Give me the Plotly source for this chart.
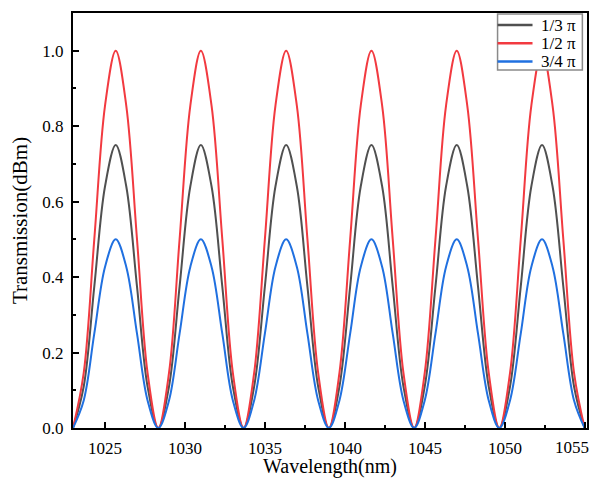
import plotly.graph_objects as go

# Wavelength sample positions (nm), 8 samples per fringe period
wavelength = [
    1023.00, 1023.67, 1024.33, 1025.00, 1025.67, 1026.33, 1027.00, 1027.66,
    1028.33, 1029.00, 1029.66, 1030.33, 1030.99, 1031.66, 1032.33, 1032.99,
    1033.66, 1034.32, 1034.99, 1035.65, 1036.32, 1036.99, 1037.65, 1038.32,
    1038.99, 1039.65, 1040.32, 1040.98, 1041.65, 1042.32, 1042.98, 1043.65,
    1044.32, 1044.98, 1045.65, 1046.31, 1046.98, 1047.64, 1048.31, 1048.98,
    1049.64, 1050.31, 1050.98, 1051.64, 1052.31, 1052.97, 1053.64, 1054.31,
    1054.97,
]

# Transmission values
t_third = [
    0.0, 0.11, 0.375, 0.64, 0.75, 0.64, 0.375, 0.11,
    0.0, 0.11, 0.375, 0.64, 0.75, 0.64, 0.375, 0.11,
    0.0, 0.11, 0.375, 0.64, 0.75, 0.64, 0.375, 0.11,
    0.0, 0.11, 0.375, 0.64, 0.75, 0.64, 0.375, 0.11,
    0.0, 0.11, 0.375, 0.64, 0.75, 0.64, 0.375, 0.11,
    0.0, 0.11, 0.375, 0.64, 0.75, 0.64, 0.375, 0.11,
    0.0,
]
t_half = [
    0.0, 0.146, 0.5, 0.854, 1.0, 0.854, 0.5, 0.146,
    0.0, 0.146, 0.5, 0.854, 1.0, 0.854, 0.5, 0.146,
    0.0, 0.146, 0.5, 0.854, 1.0, 0.854, 0.5, 0.146,
    0.0, 0.146, 0.5, 0.854, 1.0, 0.854, 0.5, 0.146,
    0.0, 0.146, 0.5, 0.854, 1.0, 0.854, 0.5, 0.146,
    0.0, 0.146, 0.5, 0.854, 1.0, 0.854, 0.5, 0.146,
    0.0,
]
t_three_quarter = [
    0.0, 0.073, 0.25, 0.427, 0.5, 0.427, 0.25, 0.073,
    0.0, 0.073, 0.25, 0.427, 0.5, 0.427, 0.25, 0.073,
    0.0, 0.073, 0.25, 0.427, 0.5, 0.427, 0.25, 0.073,
    0.0, 0.073, 0.25, 0.427, 0.5, 0.427, 0.25, 0.073,
    0.0, 0.073, 0.25, 0.427, 0.5, 0.427, 0.25, 0.073,
    0.0, 0.073, 0.25, 0.427, 0.5, 0.427, 0.25, 0.073,
    0.0,
]

series_names = ["1/3 π", "1/2 π", "3/4 π"]
series_values = [t_third, t_half, t_three_quarter]
series_colors = ["#505050", "#f23a40", "#2070e0"]

x_ticks = [1025, 1030, 1035, 1040, 1045, 1050, 1055]
x_tick_labels = ["1025", "1030", "1035", "1040", "1045", "1050", ""]
last_x_label = "1055"   # drawn separately so it stays inside the page
x_title = "Wavelength(nm)"
y_title = "Transmission(dBm)"
y_ticks = [0.0, 0.2, 0.4, 0.6, 0.8, 1.0]
y_tick_labels = ["0.0", "0.2", "0.4", "0.6", "0.8", "1.0"]

font_family = "Liberation Serif, Times New Roman, serif"

fig = go.Figure()
for name, vals, col in zip(series_names, series_values, series_colors):
    fig.add_trace(go.Scatter(
        x=wavelength, y=vals, name=name, mode="lines", showlegend=False,
        line=dict(color=col, width=2, shape="spline", smoothing=1.0),
    ))

# Hand-drawn legend box (paper coordinates) so its size matches the original
leg_x0, leg_x1, leg_y0, leg_y1 = 0.826, 0.991, 0.8626, 0.9976
leg_line_x0, leg_line_x1, leg_text_x = 0.826, 0.894, 0.906
leg_rows = [0.971, 0.927, 0.883]

shapes = [dict(type="rect", xref="paper", yref="paper",
               x0=leg_x0, x1=leg_x1, y0=leg_y0, y1=leg_y1,
               fillcolor="white", line=dict(color="#8a8a8a", width=1.5), layer="above")]
annotations = []
for name, col, ry in zip(series_names, series_colors, leg_rows):
    shapes.append(dict(type="line", xref="paper", yref="paper",
                       x0=leg_line_x0, x1=leg_line_x1, y0=ry, y1=ry,
                       line=dict(color=col, width=2.5), layer="above"))
    annotations.append(dict(xref="paper", yref="paper", x=leg_text_x, y=ry,
                            xanchor="left", yanchor="middle", showarrow=False,
                            text=name, font=dict(family=font_family, size=17, color="black")))

annotations.append(dict(xref="paper", yref="paper", x=1.0087, y=0,
                        xanchor="right", yanchor="middle", yshift=-19.5, showarrow=False,
                        text=last_x_label, font=dict(family=font_family, size=17, color="black")))
annotations.append(dict(xref="paper", yref="paper", x=0.5, y=0,
                        xanchor="center", yanchor="middle", yshift=-38, showarrow=False,
                        text=x_title, font=dict(family=font_family, size=20, color="black")))

axis_common = dict(
    showline=True, linecolor="black", linewidth=2, mirror=True,
    ticks="inside", tickcolor="black", tickwidth=2, ticklen=6,
    showgrid=False, zeroline=False,
    tickfont=dict(family=font_family, size=17, color="black"),
)

fig.update_xaxes(
    range=[1023.0, 1055.12], tickvals=x_ticks, ticktext=x_tick_labels,
    minor=dict(ticks="inside", dtick=2.5, tick0=1022.5, ticklen=3, tickwidth=2, tickcolor="black"),
    ticklabelstandoff=4,
    **axis_common,
)
fig.update_yaxes(
    range=[0, 1.1], tickvals=y_ticks, ticktext=y_tick_labels,
    title=dict(text=y_title, font=dict(family=font_family, size=21, color="black"), standoff=11),
    minor=dict(ticks="inside", dtick=0.1, tick0=0, ticklen=3, tickwidth=2, tickcolor="black"),
    ticklabelstandoff=4,
    **axis_common,
)

fig.update_layout(
    width=585, height=470,
    margin=dict(l=65, r=5.5, t=5, b=50.3, autoexpand=False),
    paper_bgcolor="white", plot_bgcolor="white",
    font=dict(family=font_family, color="black"),
    shapes=shapes, annotations=annotations,
)

fig.write_html("out.html")
